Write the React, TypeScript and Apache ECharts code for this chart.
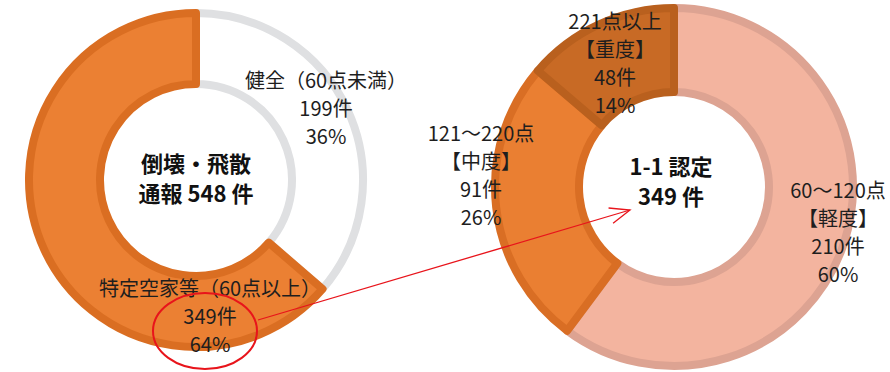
import React, { useEffect, useRef } from "react";
import * as echarts from "echarts";

const leftCategories = ["健全（60点未満）", "特定空家等（60点以上）"];
const leftValues = [199, 349];
const leftColors = ["#FFFFFF", "#EB8033"];
const leftBorders = ["#DFE0E2", "#DA6E22"];

const rightCategories = ["60～120点\n【軽度】", "121～220点\n【中度】", "221点以上\n【重度】"];
const rightValues = [210, 91, 48];
const rightColors = ["#F3B49F", "#EA7F32", "#C86A25"];
const rightBorders = ["#DDA392", "#D96E24", "#B9601E"];

const leftTitleLines = ["倒壊・飛散", "通報"];
const rightTitleLines = ["1-1 認定"];

const leftLabelPos = [
  [326, 107],
  [210, 315],
];
const rightLabelPos = [
  [838, 231],
  [481, 174],
  [615, 62],
];

const FONT = '"Noto Sans CJK JP", "Noto Sans", sans-serif';

export default function App() {
  const ref = useRef<HTMLDivElement>(null);
  useEffect(() => {
    if (!ref.current) return;
    const chart = echarts.init(ref.current, undefined, { renderer: "svg" });
    const leftTotal = leftValues.reduce((a, b) => a + b, 0);
    const rightTotal = rightValues.reduce((a, b) => a + b, 0);
    const labelFmt = (p: any) => `${p.name}\n${p.value}件\n${Math.round(p.percent)}%`;

    // arrow geometry
    const sx = 258, sy = 320, tx = 630, ty = 210;
    const len = Math.hypot(tx - sx, ty - sy);
    const dx = (tx - sx) / len, dy = (ty - sy) / len;
    const bx = tx - 20 * dx, by = ty - 20 * dy;
    const px = -dy, py = dx;

    const titleText = (text: string, x: number, y: number) => ({
      type: "text",
      x,
      y,
      z: 100,
      style: {
        text,
        font: `bold 22px ${FONT}`,
        fill: "#111111",
        textAlign: "center",
        textVerticalAlign: "middle",
      },
    });

    const labelCommon = {
      show: true,
      position: "inside",
      formatter: labelFmt,
      fontSize: 20,
      lineHeight: 28,
      color: "#1E1E1E",
      fontFamily: FONT,
      align: "center",
    };

    chart.setOption({
      animation: false,
      backgroundColor: "#FFFFFF",
      textStyle: { fontFamily: FONT },
      series: [
        {
          type: "pie",
          center: [196, 180],
          radius: [96, 167],
          startAngle: 90,
          clockwise: true,
          label: labelCommon,
          labelLine: { show: false },
          labelLayout: (p: any) => ({
            x: leftLabelPos[p.dataIndex][0],
            y: leftLabelPos[p.dataIndex][1],
            align: "center",
            verticalAlign: "middle",
          }),
          emphasis: { disabled: true },
          data: leftCategories.map((name, i) => ({
            name,
            value: leftValues[i],
            itemStyle: { color: leftColors[i], borderColor: leftBorders[i], borderWidth: 8 },
          })),
        },
        {
          type: "pie",
          center: [674, 187],
          radius: [95, 179],
          startAngle: 90,
          clockwise: true,
          label: labelCommon,
          labelLine: { show: false },
          labelLayout: (p: any) => ({
            x: rightLabelPos[p.dataIndex][0],
            y: rightLabelPos[p.dataIndex][1],
            align: "center",
            verticalAlign: "middle",
          }),
          emphasis: { disabled: true },
          data: rightCategories.map((name, i) => ({
            name,
            value: rightValues[i],
            itemStyle: { color: rightColors[i], borderColor: rightBorders[i], borderWidth: 8 },
          })),
        },
      ],
      graphic: [
        titleText(leftTitleLines[0], 196, 162),
        titleText(`${leftTitleLines[1]} ${leftTotal} 件`, 196, 192),
        titleText(rightTitleLines[0], 671, 165),
        titleText(`${rightTotal} 件`, 671, 195),
        {
          type: "ellipse",
          z: 100,
          shape: { cx: 205, cy: 331, rx: 52, ry: 38 },
          style: { fill: "none", stroke: "#E8141B", lineWidth: 2 },
        },
        {
          type: "line",
          z: 100,
          shape: { x1: sx, y1: sy, x2: tx, y2: ty },
          style: { stroke: "#E8141B", lineWidth: 1.3 },
        },
        {
          type: "polyline",
          z: 100,
          shape: {
            points: [
              [bx + 8 * px, by + 8 * py],
              [tx, ty],
              [bx - 8 * px, by - 8 * py],
            ],
          },
          style: { fill: "none", stroke: "#E8141B", lineWidth: 1.3 },
        },
      ],
    });
    return () => chart.dispose();
  }, []);
  return (
    <div
      ref={ref}
      style={{ position: "fixed", left: 0, top: 0, width: 890, height: 372 }}
    />
  );
}
